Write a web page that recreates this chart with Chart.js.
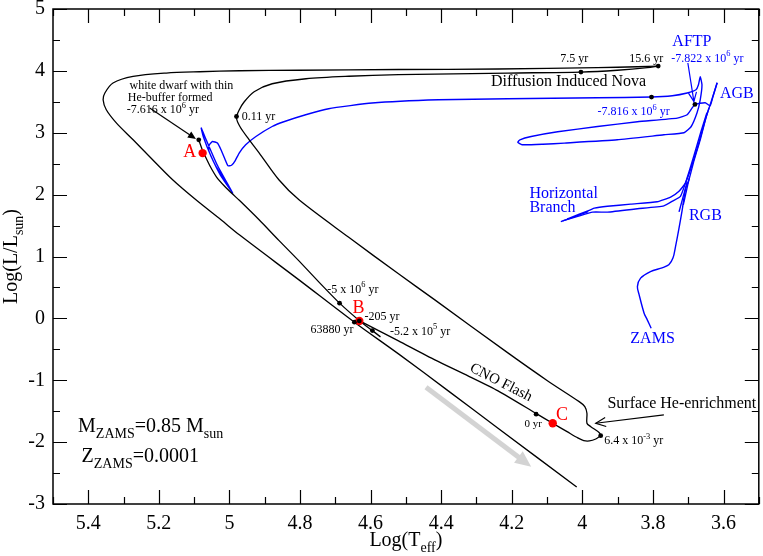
<!DOCTYPE html>
<html><head><meta charset="utf-8">
<script src="https://cdn.jsdelivr.net/npm/chart.js@4.4.0/dist/chart.umd.min.js"></script>
<style>html,body{margin:0;padding:0;background:#fff}canvas{display:block}</style>
</head><body>
<canvas id="c" width="763" height="556"></canvas>
<script>
// ---------- axis ticks ----------
const xTickValues = [5.4, 5.2, 5.0, 4.8, 4.6, 4.4, 4.2, 4.0, 3.8, 3.6];
const yTickValues = [-3, -2, -1, 0, 1, 2, 3, 4, 5];

// ---------- black track (log Teff, log L) ----------
const trackWdCoolingA = [[5.087,2.886],[5.077,2.725],[5.068,2.612],[5.054,2.450],[5.037,2.288],[5.015,2.143],[4.992,2.013],[4.972,1.908],[4.916,1.593],[4.860,1.261],[4.803,0.930],[4.747,0.590],[4.688,0.246],[4.631,-0.041],[4.594,-0.202],[4.572,-0.299]];
const trackCnoFlash = [[4.631,-0.041],[4.521,-0.364],[4.418,-0.671],[4.324,-0.930],[4.239,-1.172],[4.129,-1.544],[4.084,-1.695],[4.042,-1.835],[4.013,-1.932],[3.996,-1.976],[3.980,-1.981],[3.962,-1.949],[3.948,-1.895]];
const trackNovaRise = [[3.948,-1.895],[3.952,-1.847],[3.976,-1.750],[3.987,-1.695],[3.987,-1.533],[3.993,-1.426],[4.009,-1.346],[4.098,-1.011],[4.211,-0.558],[4.418,0.299],[4.521,0.720],[4.662,1.310],[4.803,1.916],[4.860,2.240],[4.916,2.676],[4.944,2.886],[4.970,3.097],[4.980,3.242],[4.972,3.372],[4.958,3.501],[4.930,3.663],[4.879,3.792],[4.783,3.873],[4.662,3.913],[4.521,3.938],[4.211,3.965],[4.004,3.981],[3.901,4.010],[3.816,4.051],[3.785,4.078]];
const trackNovaReturn = [[3.785,4.078],[3.844,4.067],[3.957,4.051],[4.239,4.030],[4.521,4.022],[4.803,4.010],[4.972,4.002],[5.085,3.986],[5.179,3.965],[5.273,3.910],[5.330,3.803],[5.353,3.642],[5.358,3.533],[5.349,3.372],[5.320,3.156],[5.273,2.886],[5.226,2.612],[5.161,2.240],[5.095,1.916],[5.024,1.593],[4.972,1.350],[4.803,0.622],[4.646,-0.062],[4.521,-0.574],[4.380,-1.172],[4.239,-1.776],[4.016,-2.725]];

// ---------- blue track ----------
const blueZamsToRgb = [[3.805,-0.159],[3.816,-0.024],[3.825,0.084],[3.839,0.380],[3.844,0.514],[3.835,0.650],[3.807,0.757],[3.774,0.817],[3.755,0.865],[3.743,0.978],[3.736,1.161],[3.727,1.431],[3.717,1.755],[3.708,2.078],[3.698,2.240],[3.683,2.563],[3.666,2.886],[3.652,3.194],[3.641,3.404]];
const blueHbToAgb = [[4.061,1.565],[3.985,1.722],[4.042,1.609],[3.977,1.755],[3.966,1.782],[3.929,1.811],[3.863,1.847],[3.788,1.884],[3.750,1.960],[3.727,2.050],[3.708,2.186],[3.689,2.482],[3.669,2.854],[3.650,3.242],[3.635,3.501],[3.618,3.808]];
const blueHbLower = [[4.056,1.577],[4.013,1.649],[3.971,1.717],[3.929,1.717],[3.844,1.771],[3.769,1.819],[3.743,1.900],[3.722,1.970],[3.703,2.272],[3.683,2.644],[3.664,3.016],[3.647,3.323]];
const blueFlashA = [[3.703,2.207],[3.726,1.722]];
const blueFlashB = [[3.697,2.272],[3.714,1.835]];
const bluePostAgb = [[3.618,3.808],[3.630,3.582],[3.638,3.436],[3.652,3.485],[3.681,3.457],[3.703,3.291],[3.731,3.237],[3.844,3.178],[3.957,3.101],[4.070,3.016],[4.145,2.940],[4.177,2.886],[4.183,2.846],[4.171,2.806],[4.112,2.814],[4.051,2.833],[3.901,2.886],[3.769,2.967],[3.712,3.000],[3.692,3.097],[3.675,3.323],[3.666,3.533],[3.661,3.776],[3.666,3.905],[3.671,3.776],[3.678,3.695],[3.703,3.642],[3.745,3.598],[3.804,3.577],[3.957,3.566],[4.211,3.549],[4.408,3.533],[4.596,3.480],[4.719,3.388],[4.784,3.291],[4.846,3.178],[4.879,3.101],[4.925,2.940],[4.954,2.806],[4.972,2.676],[4.984,2.547],[4.994,2.474],[5.004,2.466],[5.010,2.536],[5.024,2.725],[5.034,2.833],[5.048,2.859],[5.057,2.806],[5.059,2.725],[5.052,2.616],[5.038,2.455],[5.020,2.293],[4.991,2.025],[5.035,2.482],[5.066,2.886],[5.080,3.076],[5.074,2.935],[5.054,2.644],[5.026,2.320],[4.991,2.025]];

// ---------- marked epochs ----------
const blackDots = [[5.087,2.886],[4.980,3.263],[4.004,3.981],[3.785,4.078],[4.688,0.246],[4.646,-0.062],[4.632,-0.041],[4.595,-0.197],[4.131,-1.549],[3.948,-1.895],[3.804,3.577],[3.681,3.457]];
const redDots = [[5.076,2.671],[4.632,-0.041],[4.084,-1.695]];

const BLUE = '#0000ff', RED = '#ff0000', BLACK = '#000000';
const FONT = '"Liberation Serif", "Times New Roman", serif';

const annotationTexts = [
  {t:'white dwarf with thin', x:5.283, y:3.711, size:12, color:BLACK},
  {t:'He-buffer formed', x:5.288, y:3.509, size:12, color:BLACK},
  {t:'-7.616 x 10^{6} yr', x:5.291, y:3.315, size:12, color:BLACK},
  {t:'0.11 yr', x:4.965, y:3.202, size:12, color:BLACK},
  {t:'7.5 yr', x:4.023, y:4.148, size:12, color:BLACK, align:'center'},
  {t:'15.6 yr', x:3.819, y:4.148, size:12, color:BLACK, align:'center'},
  {t:'Diffusion Induced Nova', x:4.259, y:3.760, size:16, color:BLACK},
  {t:'AFTP', x:3.745, y:4.395, size:16, color:BLUE},
  {t:'-7.822 x 10^{6} yr', x:3.748, y:4.148, size:12, color:BLUE},
  {t:'AGB', x:3.610, y:3.566, size:16, color:BLUE},
  {t:'-7.816 x 10^{6} yr', x:3.957, y:3.283, size:12, color:BLUE},
  {t:'Horizontal', x:4.150, y:1.944, size:16, color:BLUE},
  {t:'Branch', x:4.150, y:1.717, size:16, color:BLUE},
  {t:'RGB', x:3.698, y:1.593, size:16, color:BLUE},
  {t:'ZAMS', x:3.864, y:-0.401, size:16, color:BLUE},
  {t:'-5 x 10^{6} yr', x:4.723, y:0.412, size:12, color:BLACK},
  {t:'-205 yr', x:4.617, y:-0.024, size:12, color:BLACK},
  {t:'63880 yr', x:4.770, y:-0.230, size:12, color:BLACK},
  {t:'-5.2 x 10^{5} yr', x:4.545, y:-0.267, size:12, color:BLACK},
  {t:'CNO Flash', x:4.229, y:-1.019, size:15, color:BLACK, align:'center', rot:27},
  {t:'0 yr', x:4.164, y:-1.755, size:11, color:BLACK},
  {t:'Surface He-enrichment', x:3.929, y:-1.452, size:16, color:BLACK},
  {t:'6.4 x 10^{-3} yr', x:3.938, y:-2.038, size:12, color:BLACK},
  {t:'M_{ZAMS}=0.85 M_{sun}', x:5.429, y:-1.831, size:20, color:BLACK},
  {t:'Z_{ZAMS}=0.0001', x:5.419, y:-2.316, size:20, color:BLACK},
  {t:'A', x:5.094, y:2.603, size:18, color:RED, align:'right'},
  {t:'B', x:4.651, y:0.089, size:18, color:RED},
  {t:'C', x:4.075, y:-1.641, size:18, color:RED}
];

const annotationArrows = [
  {from:[5.226,3.399], to:[5.095,2.898], color:BLACK, width:1.2, head:'filled', size:8},
  {from:[3.701,4.127], to:[3.684,3.506], color:BLUE, width:1.2, head:'open', size:9},
  {from:[3.769,-1.561], to:[3.962,-1.695], color:BLACK, width:1.2, head:'open', size:10},
  {from:[4.443,-1.113], to:[4.145,-2.397], color:'#d3d3d3', width:5, head:'filled', size:16}
];

function parseRich(s){
  const out=[]; const re=/([_^])\{([^}]*)\}/g; let last=0, m;
  while((m=re.exec(s))){ if(m.index>last) out.push({t:s.slice(last,m.index),k:''}); out.push({t:m[2],k:m[1]}); last=re.lastIndex; }
  if(last<s.length) out.push({t:s.slice(last),k:''});
  return out;
}
function drawRich(ctx,s,x,y,size,align,color){
  const segs=parseRich(s); let total=0;
  segs.forEach(g=>{ g.fs=g.k?size*0.7:size; ctx.font=g.fs+'px '+FONT; g.w=ctx.measureText(g.t).width; total+=g.w; });
  let cx = align==='center'? x-total/2 : align==='right'? x-total : x;
  ctx.fillStyle=color; ctx.textAlign='left'; ctx.textBaseline='alphabetic';
  segs.forEach(g=>{ ctx.font=g.fs+'px '+FONT; const dy=g.k==='_'?size*0.32:(g.k==='^'?-size*0.45:0); ctx.fillText(g.t,cx,y+dy); cx+=g.w; });
}
function drawArrow(ctx,x1,y1,x2,y2,color,width,head,size){
  const ang=Math.atan2(y2-y1,x2-x1), hl=size, hw=size*0.45;
  ctx.strokeStyle=color; ctx.fillStyle=color; ctx.lineWidth=width; ctx.lineCap='butt';
  let ex=x2, ey=y2;
  if(head==='filled'){ ex=x2-Math.cos(ang)*hl*0.9; ey=y2-Math.sin(ang)*hl*0.9; }
  ctx.beginPath(); ctx.moveTo(x1,y1); ctx.lineTo(ex,ey); ctx.stroke();
  const bx=x2-Math.cos(ang)*hl, by=y2-Math.sin(ang)*hl, nx=-Math.sin(ang)*hw, ny=Math.cos(ang)*hw;
  ctx.beginPath(); ctx.moveTo(bx+nx,by+ny); ctx.lineTo(x2,y2); ctx.lineTo(bx-nx,by-ny);
  if(head==='filled'){ ctx.closePath(); ctx.fill(); } else { ctx.lineWidth=1.2; ctx.stroke(); }
}

const framePlugin = {
  id:'frame',
  beforeDraw(chart){ const c=chart.ctx; c.save(); c.fillStyle='#fff'; c.fillRect(0,0,chart.width,chart.height); c.restore(); },
  afterDatasetsDraw(chart){
    const {ctx, chartArea:a, scales:{x,y}} = chart;
    ctx.save();
    ctx.strokeStyle='#000'; ctx.lineWidth=1.5;
    ctx.strokeRect(a.left,a.top,a.right-a.left,a.bottom-a.top);
    ctx.lineWidth=1.2; ctx.beginPath();
    for(let i=35;i<=55;i++){ const px=Math.round(x.getPixelForValue(i/10))+0.5; const L=(i%2===0)?14:7;
      ctx.moveTo(px,a.bottom); ctx.lineTo(px,a.bottom-L); ctx.moveTo(px,a.top); ctx.lineTo(px,a.top+L); }
    for(let i=-6;i<=10;i++){ const py=Math.round(y.getPixelForValue(i/2))+0.5; const L=(i%2===0)?14:7;
      ctx.moveTo(a.left,py); ctx.lineTo(a.left+L,py); ctx.moveTo(a.right,py); ctx.lineTo(a.right-L,py); }
    ctx.stroke();
    annotationArrows.forEach(r=>{
      drawArrow(ctx, x.getPixelForValue(r.from[0]), y.getPixelForValue(r.from[1]), x.getPixelForValue(r.to[0]), y.getPixelForValue(r.to[1]), r.color, r.width, r.head, r.size);
    });
    annotationTexts.forEach(n=>{
      const px=x.getPixelForValue(n.x), py=y.getPixelForValue(n.y);
      if(n.rot){ ctx.save(); ctx.translate(px,py); ctx.rotate(n.rot*Math.PI/180); drawRich(ctx,n.t,0,n.size*0.35,n.size,n.align||'left',n.color); ctx.restore(); }
      else drawRich(ctx,n.t,px,py,n.size,n.align||'left',n.color);
    });
    drawRich(ctx,'Log(T_{eff})',(a.left+a.right)/2,546,20,'center','#000');
    ctx.save(); ctx.translate(17,(a.top+a.bottom)/2); ctx.rotate(-Math.PI/2);
    drawRich(ctx,'Log(L/L_{sun})',0,0,20,'center','#000'); ctx.restore();
    ctx.restore();
  }
};

const toXY = arr => arr.map(([x,y])=>({x,y}));
const lineDs = (arr,color,width,tension)=>({data:toXY(arr), showLine:true, borderColor:color, borderWidth:width, pointRadius:0, tension:tension, fill:false, borderJoinStyle:'round'});

const datasets = [
  {data:toXY(blackDots), showLine:false, pointRadius:2.4, pointBackgroundColor:BLACK, pointBorderWidth:0},
  {data:toXY(redDots), showLine:false, pointRadius:4.2, pointBackgroundColor:RED, pointBorderWidth:0},
  lineDs(trackWdCoolingA,BLACK,1.3,0.2),
  lineDs(trackCnoFlash,BLACK,1.3,0.2),
  lineDs(trackNovaRise,BLACK,1.3,0.3),
  lineDs(trackNovaReturn,BLACK,1.3,0.3),
  lineDs(blueZamsToRgb,BLUE,1.4,0.3),
  lineDs(blueHbToAgb,BLUE,1.4,0.15),
  lineDs(blueHbLower,BLUE,1.4,0.15),
  lineDs(blueFlashA,BLUE,1.4,0),
  lineDs(blueFlashB,BLUE,1.4,0),
  lineDs(bluePostAgb,BLUE,1.4,0.15)
];

const fmt = v => String(Math.round(v*10)/10);

new Chart(document.getElementById('c'), {
  type:'scatter',
  data:{datasets},
  options:{
    responsive:false, animation:false, devicePixelRatio:1,
    layout:{padding:{top:9,right:2,left:0,bottom:0}},
    plugins:{legend:{display:false}, tooltip:{enabled:false}},
    scales:{
      x:{type:'linear', reverse:true, min:3.5, max:5.5,
        afterBuildTicks:s=>{ s.ticks = xTickValues.map(v=>({value:v})); },
        afterFit:s=>{ s.height=52; s.paddingLeft=0; s.paddingRight=0; },
        grid:{display:false, drawTicks:false}, border:{display:false},
        ticks:{padding:8, color:'#000', maxRotation:0, autoSkip:false, font:{family:'Liberation Serif', size:20}, callback:v=>fmt(v)}},
      y:{type:'linear', min:-3, max:5,
        afterBuildTicks:s=>{ s.ticks = yTickValues.map(v=>({value:v})); },
        afterFit:s=>{ s.width=53; s.paddingTop=0; s.paddingBottom=0; },
        grid:{display:false, drawTicks:false}, border:{display:false},
        ticks:{padding:8, color:'#000', autoSkip:false, font:{family:'Liberation Serif', size:20}, callback:v=>fmt(v)}}
    }
  },
  plugins:[framePlugin]
});
</script>
</body></html>
